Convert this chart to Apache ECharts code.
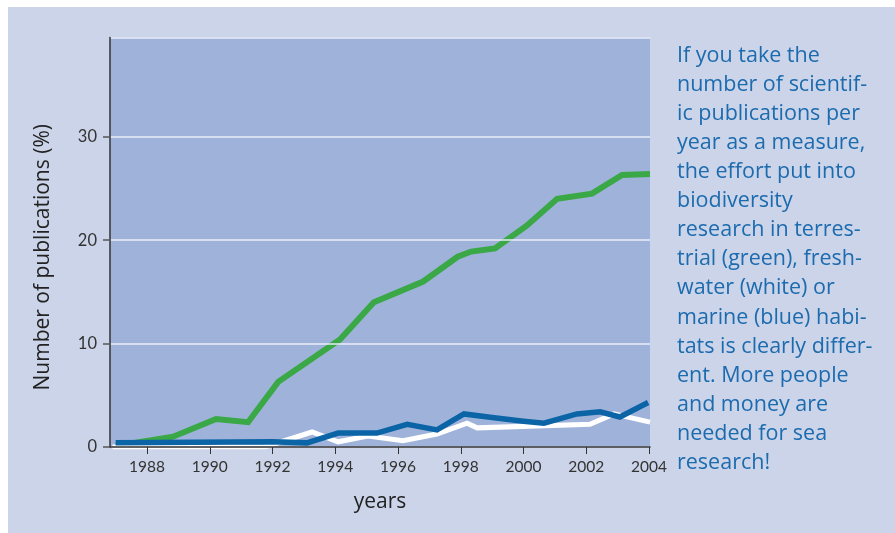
<!DOCTYPE html>
<html>
<head>
<meta charset="utf-8">
<script src="https://cdn.jsdelivr.net/npm/echarts@6/dist/echarts.min.js"></script>
<style>
  html, body { margin: 0; padding: 0; background: #ffffff; }
  #chart { width: 895px; height: 533px; }
</style>
</head>
<body>
<div id="chart"></div>
<script>
// ---- Data ----
var xTickYears = [1988, 1990, 1992, 1994, 1996, 1998, 2000, 2002, 2004];
var yTickValues = [0, 10, 20, 30];

// terrestrial (green): [year, % of publications]
var terrestrial = [
  [1987.0, 0.1], [1988.83, 1.0], [1990.2, 2.7], [1991.22, 2.4], [1992.18, 6.3],
  [1994.15, 10.4], [1995.23, 14.0], [1996.8, 16.0], [1997.9, 18.4], [1998.33, 18.9],
  [1999.09, 19.2], [2000.1, 21.4], [2001.07, 24.0], [2002.18, 24.5], [2003.14, 26.3],
  [2004.03, 26.4]
];
// freshwater (white)
var freshwater = [
  [1986.9, 0.0], [1991.76, 0.0], [1993.26, 1.45], [1994.09, 0.5], [1995.04, 1.05],
  [1996.16, 0.6], [1997.24, 1.25], [1998.2, 2.3], [1998.52, 1.85], [2002.12, 2.2],
  [2002.88, 3.2], [2004.03, 2.4]
];
// marine (blue)
var marine = [
  [1987.0, 0.4], [1992.0, 0.5], [1993.1, 0.4], [1994.09, 1.35], [1995.33, 1.35],
  [1996.29, 2.2], [1997.24, 1.65], [1998.1, 3.2], [1999.0, 2.85], [2000.0, 2.5],
  [2000.65, 2.3], [2001.7, 3.2], [2002.44, 3.4], [2003.07, 2.9], [2003.97, 4.3]
];

var xName = 'years';
var yName = 'Number of publications (%)';
var noteLines = [
  'If you take the',
  'number of scientif-',
  'ic publications per',
  'year as a measure,',
  'the effort put into',
  'biodiversity',
  'research in terres-',
  'trial (green), fresh-',
  'water (white) or',
  'marine (blue) habi-',
  'tats is clearly differ-',
  'ent. More people',
  'and money are',
  'needed for sea',
  'research!'
];

// ---- Chart ----
var FONT = '"Open Sans"';
var TICKFONT = 'Lato';
var chart = echarts.init(document.getElementById('chart'), null, { renderer: 'canvas' });

var option = {
  backgroundColor: '#ffffff',
  animation: false,
  textStyle: { fontFamily: FONT },
  graphic: [
    {
      type: 'rect', z: -10, silent: true,
      shape: { x: 8, y: 7, width: 887, height: 526 },
      style: { fill: '#cbd4e8' }
    },
    {
      type: 'text', z: 10, left: 677, top: 41,
      style: {
        text: noteLines.join('\n'),
        fill: '#1c6bae',
        font: '21.5px ' + FONT,
        lineHeight: 29.1
      }
    }
  ],
  grid: {
    left: 110, top: 37.5, right: 245, bottom: 86,
    show: true, backgroundColor: '#9fb3da', borderWidth: 0
  },
  xAxis: [
    {
      type: 'value', min: 1986.82, max: 2004.03, position: 'bottom', z: 5,
      name: xName, nameLocation: 'middle', nameGap: 45,
      nameTextStyle: { color: '#222', fontSize: 21, fontFamily: FONT },
      axisLine: { show: true, onZero: false, lineStyle: { color: '#333', width: 1.5 } },
      axisTick: { show: true, length: 7, customValues: xTickYears, lineStyle: { color: '#333', width: 1 } },
      axisLabel: {
        show: true, customValues: xTickYears, margin: 12, color: '#333',
        fontSize: 15.5, fontFamily: TICKFONT,
        formatter: function (v) { return String(Math.round(v)); }
      },
      splitLine: { show: false }
    },
    {
      type: 'value', min: 1986.82, max: 2004.03, position: 'top',
      axisLine: { show: true, onZero: false, lineStyle: { color: '#e8edf7', width: 1.5 } },
      axisTick: { show: false }, axisLabel: { show: false }, splitLine: { show: false }
    }
  ],
  yAxis: {
    type: 'value', min: 0, max: 39.6, z: 5,
    name: yName, nameLocation: 'middle', nameGap: 56, nameRotate: 90,
    nameTextStyle: { color: '#222', fontSize: 21, fontFamily: FONT, padding: [0, 30, 0, 0] },
    axisLine: { show: true, lineStyle: { color: '#333', width: 1.5 } },
    axisTick: { show: true, length: 7, customValues: yTickValues, lineStyle: { color: '#555', width: 1.5 } },
    axisLabel: {
      show: true, customValues: yTickValues, margin: 13, color: '#333',
      fontSize: 16.5, fontFamily: TICKFONT
    },
    splitLine: { show: true, lineStyle: { color: '#e8edf7', width: 1.5 } }
  },
  series: [
    {
      name: 'terrestrial', type: 'line', data: terrestrial, xAxisIndex: 0,
      showSymbol: false, symbol: 'none', z: 2,
      lineStyle: { color: '#3aa846', width: 6, join: 'miter' }
    },
    {
      name: 'freshwater', type: 'line', data: freshwater, xAxisIndex: 0,
      showSymbol: false, symbol: 'none', z: 3,
      lineStyle: { color: '#ffffff', width: 5, join: 'miter' }
    },
    {
      name: 'marine', type: 'line', data: marine, xAxisIndex: 0,
      showSymbol: false, symbol: 'none', z: 4,
      lineStyle: { color: '#0b64a6', width: 5.5, join: 'miter' }
    }
  ]
};
chart.setOption(option);
</script>
</body>
</html>
